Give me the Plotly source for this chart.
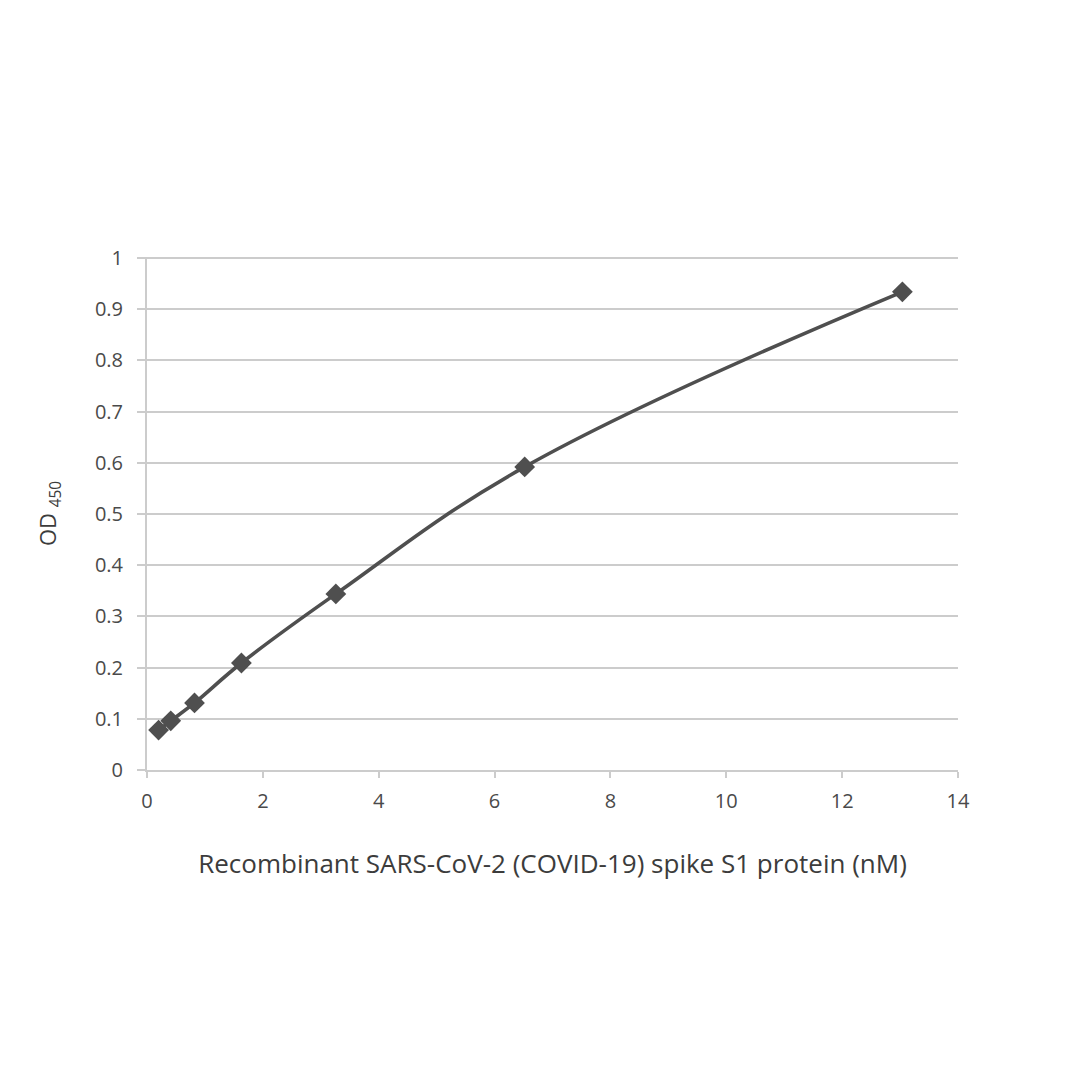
import plotly.graph_objects as go

conc_nM = [0.20, 0.41, 0.82, 1.63, 3.26, 6.52, 13.04]
od450 = [0.078, 0.096, 0.131, 0.209, 0.344, 0.592, 0.934]

x_ticks = [0, 2, 4, 6, 8, 10, 12, 14]
y_ticks = [0, 0.1, 0.2, 0.3, 0.4, 0.5, 0.6, 0.7, 0.8, 0.9, 1]
y_tick_text = ["0", "0.1", "0.2", "0.3", "0.4", "0.5", "0.6", "0.7", "0.8", "0.9", "1"]

line_color = "#4f4f4f"
grid_color = "#cccccc"
text_color = "#4a4a4a"
font_family = "Open Sans, Liberation Sans, sans-serif"

fig = go.Figure()
fig.add_trace(go.Scatter(
    x=conc_nM, y=od450,
    mode="lines+markers",
    line=dict(color=line_color, width=3.6, shape="spline", smoothing=1.15),
    marker=dict(symbol="diamond", size=16, color=line_color),
    showlegend=False,
))

fig.update_layout(
    width=1080, height=1080,
    paper_bgcolor="white", plot_bgcolor="white",
    margin=dict(l=139, r=130, t=249, b=318),
    font=dict(family=font_family, color=text_color, size=20),
    xaxis=dict(
        range=[0, 14], tickvals=x_ticks, showgrid=False, zeroline=False,
        showline=True, linecolor=grid_color, linewidth=2,
        ticks="outside", ticklen=6, tickcolor=grid_color, tickwidth=2,
        ticklabelstandoff=6,
        tickfont=dict(size=20, color=text_color),
        title=dict(text="Recombinant SARS-CoV-2 (COVID-19) spike S1 protein (nM)",
                   font=dict(size=26, color="#3c3c3c"), standoff=42),
    ),
    yaxis=dict(
        range=[0, 1.002], tickvals=y_ticks, ticktext=y_tick_text,
        showgrid=True, gridcolor=grid_color, gridwidth=2, zeroline=False,
        showline=True, linecolor=grid_color, linewidth=2,
        ticks="outside", ticklen=8, tickcolor=grid_color, tickwidth=2,
        ticklabelstandoff=10,
        tickfont=dict(size=20, color=text_color),
        title=dict(text="OD <sub>450</sub>", font=dict(size=22, color="#3c3c3c"), standoff=32),
    ),
)

fig.write_html("out.html")
